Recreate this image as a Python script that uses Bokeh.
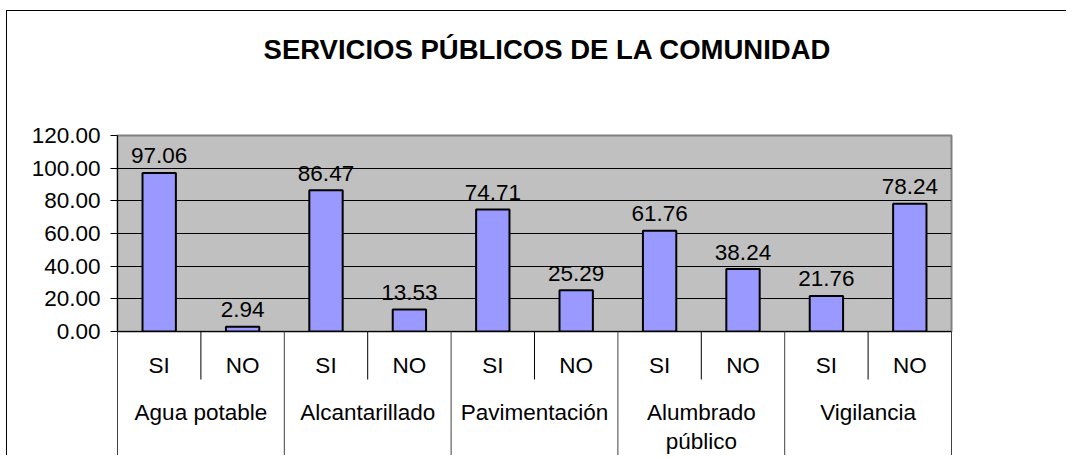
from bokeh.plotting import figure
from bokeh.models import FactorRange, Range1d, ColumnDataSource, NumeralTickFormatter, FixedTicker
from bokeh.core.properties import value
from bokeh.embed import file_html
from bokeh.resources import INLINE

# ---- data ----
title_text = "SERVICIOS PÚBLICOS DE LA COMUNIDAD"
groups = ["Agua potable", "Alcantarillado", "Pavimentación", "Alumbrado público", "Vigilancia"]
group_labels = ["Agua potable", "Alcantarillado", "Pavimentación", "Alumbrado\npúblico", "Vigilancia"]
answers = ["SI", "NO"]
si_values = [97.06, 86.47, 74.71, 61.76, 21.76]
no_values = [2.94, 13.53, 25.29, 38.24, 78.24]
y_ticks = [0, 20, 40, 60, 80, 100, 120]

factors = [(g, a) for g in groups for a in answers]
values = []
for s, n in zip(si_values, no_values):
    values += [s, n]
labels = [f"{v:.2f}" for v in values]
sub_labels = [a for g in groups for a in answers]

FONT = "Liberation Sans"
FS = "22.5px"
W, H = 1060, 445
FL, FT, FB, FR = 110, 124, 125, 116

SUB_Y = -20.8
GROUP_Y = -42.0
INNER_SEP_Y = -29.4
GROUP_SEP_Y = -82.0
TITLE_X = (groups[2], answers[1], -0.344)
TITLE_Y = 172.7

p = figure(
    x_range=FactorRange(*factors, factor_padding=0, group_padding=0,
                        subgroup_padding=0, range_padding=0),
    y_range=Range1d(y_ticks[0], y_ticks[-1]),
    width=W, height=H, output_backend="svg", toolbar_location=None,
    min_border_left=FL, min_border_top=FT, min_border_bottom=FB, min_border_right=FR,
)
p.margin = (10, 0, 0, 6)
p.styles = {"border-top": "1px solid black", "border-left": "1px solid black"}
p.background_fill_color = "#C0C0C0"
p.border_fill_color = "white"
p.outline_line_color = "#808080"
p.outline_line_width = 2

# title
p.text(x=[TITLE_X], y=[TITLE_Y], text=[title_text], text_align="center",
       text_baseline="middle", text_font=value(FONT), text_font_size="27.5px",
       text_font_style="bold", text_color="black", level="overlay")

# bars
src = ColumnDataSource(dict(x=factors, top=values, label=labels))
p.vbar(x="x", top="top", width=0.4, source=src, fill_color="#9999FF",
       line_color="black", line_width=2)
p.text(x="x", y="top", text="label", source=src, text_align="center",
       text_baseline="alphabetic", y_offset=-17, text_font=value(FONT),
       text_font_size=FS, text_color="black")

# axes
p.xaxis.visible = False
p.xgrid.grid_line_color = None
p.yaxis.ticker = FixedTicker(ticks=y_ticks)
p.yaxis.formatter = NumeralTickFormatter(format="0.00")
p.yaxis.major_label_text_font = FONT
p.yaxis.major_label_text_font_size = FS
p.yaxis.major_label_text_color = "black"
p.yaxis.axis_line_color = "black"
p.yaxis.major_tick_line_color = "black"
p.yaxis.major_tick_out = 7
p.yaxis.major_tick_in = 0
p.yaxis.minor_tick_line_color = None
p.yaxis.major_label_standoff = 10
p.ygrid.ticker = FixedTicker(ticks=y_ticks[1:-1])
p.ygrid.grid_line_color = "black"
p.ygrid.grid_line_width = 1

# category axis (drawn below the plot area)
first = (groups[0], answers[0], -0.5)
last = (groups[-1], answers[-1], 0.5)
p.segment(x0=[first], y0=[0], x1=[last], y1=[0], line_color="black",
          line_width=1, level="overlay")
inner_x = [(g, answers[1], -0.5) for g in groups]
p.segment(x0=inner_x, y0=[0] * len(inner_x), x1=inner_x, y1=[INNER_SEP_Y] * len(inner_x),
          line_color="black", line_width=1, level="overlay")
group_x = [(g, answers[0], -0.5) for g in groups] + [last]
p.segment(x0=group_x, y0=[0] * len(group_x), x1=group_x, y1=[GROUP_SEP_Y] * len(group_x),
          line_color="#404040", line_width=1, level="overlay")

p.text(x=factors, y=[SUB_Y] * len(factors), text=sub_labels, text_align="center",
       text_baseline="middle", text_font=value(FONT), text_font_size=FS,
       text_color="black", level="overlay")
p.text(x=groups, y=[GROUP_Y] * len(groups), text=group_labels, text_align="center",
       text_baseline="top", text_font=value(FONT), text_font_size=FS,
       text_color="black", text_line_height=1.15, level="overlay")

open("out.html", "w").write(file_html(p, INLINE))
